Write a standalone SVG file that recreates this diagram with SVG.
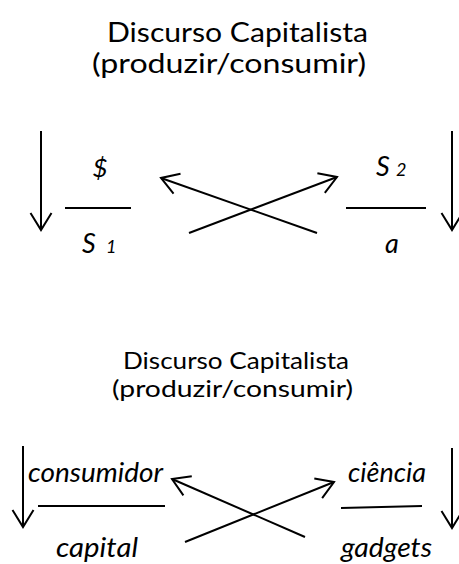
<svg xmlns="http://www.w3.org/2000/svg" width="459" height="564" viewBox="0 0 459 564">
<style>
.t{font-family:Lato,"Open Sans","Liberation Sans",sans-serif;fill:#000;}
.ti{font-family:Lato,"Open Sans","Liberation Sans",sans-serif;font-style:italic;fill:#000;}
.ln{stroke:#000;stroke-width:2;fill:none;}
.ar{stroke:#000;stroke-width:2;fill:none;marker-end:url(#v);}
</style>
<defs>
<marker id="v" viewBox="0 0 20 24" refX="18" refY="12" markerWidth="20" markerHeight="24" markerUnits="userSpaceOnUse" orient="auto">
<path d="M1,1.5 L18,12 L1,22.5" stroke="#000" stroke-width="2" fill="none"/>
</marker>
</defs>
<rect width="459" height="564" fill="#fff"/>
<g id="title-top">
<text class="t" x="237.5" y="42" font-size="27" text-anchor="middle" textLength="261" lengthAdjust="spacingAndGlyphs">Discurso Capitalista</text>
<text class="t" x="229" y="73" font-size="27" text-anchor="middle" textLength="274" lengthAdjust="spacingAndGlyphs">(produzir/consumir)</text>
</g>
<g id="top-left">
<text class="ti" x="100" y="177" font-size="26" text-anchor="middle">$</text>
<text class="ti" x="82" y="253" font-size="27">S<tspan x="106" font-size="18">1</tspan></text>
</g>
<g id="top-right">
<text class="ti" x="376" y="176" font-size="27">S<tspan x="396" font-size="18">2</tspan></text>
<text class="ti" x="392" y="253" font-size="27" text-anchor="middle">a</text>
</g>
<g id="title-bottom">
<text class="t" x="236" y="369" font-size="23" text-anchor="middle" textLength="226" lengthAdjust="spacingAndGlyphs">Discurso Capitalista</text>
<text class="t" x="232.5" y="397" font-size="23" text-anchor="middle" textLength="241" lengthAdjust="spacingAndGlyphs">(produzir/consumir)</text>
</g>
<g id="bottom-left">
<text class="ti" x="28" y="482" font-size="27" textLength="135" lengthAdjust="spacingAndGlyphs">consumidor</text>
<text class="ti" x="56" y="557" font-size="27" textLength="82" lengthAdjust="spacingAndGlyphs">capital</text>
</g>
<g id="bottom-right">
<text class="ti" x="348" y="482" font-size="27" textLength="78" lengthAdjust="spacingAndGlyphs">ciência</text>
<text class="ti" x="341" y="557" font-size="27" textLength="91" lengthAdjust="spacingAndGlyphs">gadgets</text>
</g>
<g id="connectors">
<path class="ar" d="M41,131 V230"/>
<path class="ar" d="M452,131 V230"/>
<path class="ln" d="M65,208 H131"/>
<path class="ln" d="M346,208 H426"/>
<path class="ar" d="M317,233 L161,178"/>
<path class="ar" d="M189,233 L337,177"/>
<path class="ar" d="M23,446 V527"/>
<path class="ar" d="M452,448 V528"/>
<path class="ln" d="M38,506 H165"/>
<path class="ln" d="M341,508 L422,506"/>
<path class="ar" d="M305,537 L172,479"/>
<path class="ar" d="M185,542 L334,482"/>
</g>
</svg>
